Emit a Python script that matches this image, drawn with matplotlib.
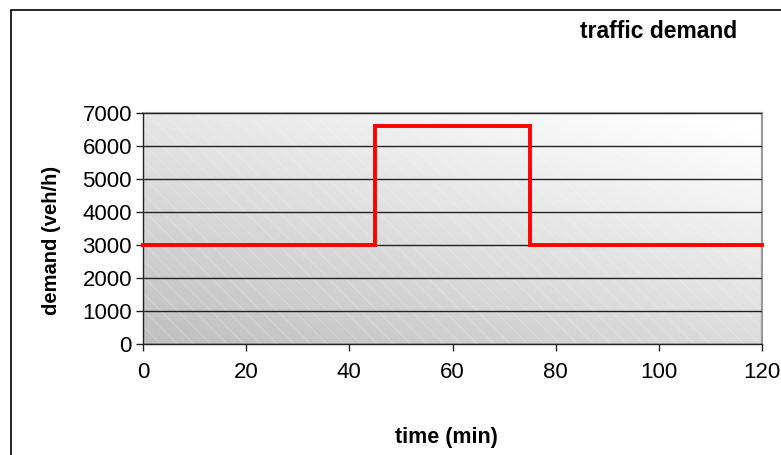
import numpy as np
import matplotlib
matplotlib.use('Agg')
import matplotlib.pyplot as plt
from matplotlib.patches import Rectangle

# step demand profile
time_min = [0, 45, 75, 120]
demand = [3000, 6600, 3000, 3000]

x_ticks = [0, 20, 40, 60, 80, 100, 120]
y_ticks = [0, 1000, 2000, 3000, 4000, 5000, 6000, 7000]

plt.rcParams['font.family'] = ['Liberation Sans', 'DejaVu Sans']
plt.rcParams['hatch.linewidth'] = 0.8

fig = plt.figure(figsize=(7.81, 4.55), dpi=100)
ax = fig.add_axes([143/781, 1-344/455, 619/781, 231/455])

# outer chart frame (only left and top visible)
fig.patches.append(Rectangle((11/781, -0.1), 1.2, 1-10/455+0.1, transform=fig.transFigure,
                             fill=False, edgecolor='black', linewidth=1.2, zorder=0))

# diagonal gray gradient background
gx, gy = np.meshgrid(np.linspace(0, 1, 300), np.linspace(0, 1, 200))
shade = np.clip(0.75 + 0.11*gx + 0.15*gy, 0, 1)
ax.imshow(shade, extent=[0, 1, 0, 1], transform=ax.transAxes, origin='lower',
          cmap='gray', vmin=0, vmax=1, aspect='auto', zorder=0)
ax.add_patch(Rectangle((0, 0), 1, 1, transform=ax.transAxes, fill=False, hatch='\\\\',
                       edgecolor=(1, 1, 1, 0.18), linewidth=0, zorder=0.5))

ax.set_xlim(0, 120)
ax.set_ylim(0, 7000)
ax.set_xticks(x_ticks)
ax.set_yticks(y_ticks)
ax.yaxis.grid(True, color='#222222', linewidth=1.0, zorder=1)
ax.set_axisbelow(False)

ax.plot(time_min, demand, drawstyle='steps-post', color='#ff0000', linewidth=2.8,
        solid_joinstyle='miter', zorder=3, clip_on=False)

for s in ['left', 'bottom']:
    ax.spines[s].set_color('#222222')
    ax.spines[s].set_linewidth(1.0)
for s in ['top', 'right']:
    ax.spines[s].set_color('#999999')
    ax.spines[s].set_linewidth(1.5)

ax.tick_params(axis='both', direction='out', length=5, width=1, color='#222222',
               labelsize=16)
ax.tick_params(axis='x', pad=8)
ax.tick_params(axis='y', pad=3)

fig.text(52/781, 1-240/455, 'demand (veh/h)', rotation=90, ha='center', va='center',
         fontsize=14.5, fontweight='bold')
fig.text(446/781, 1-437/455, 'time (min)', ha='center', va='center',
         fontsize=15.5, fontweight='bold')
fig.text(659/781, 1-32/455, 'traffic demand', ha='center', va='center',
         fontsize=16.5, fontweight='bold')

fig.savefig('out.png', dpi=100)
